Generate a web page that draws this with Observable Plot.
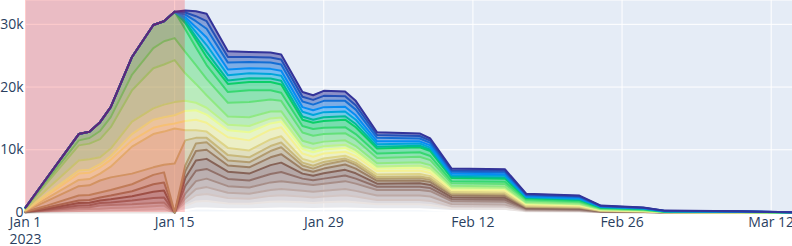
<!DOCTYPE html>
<html>
<head>
<meta charset="utf-8">
<script src="https://cdn.jsdelivr.net/npm/d3@7"></script>
<script src="https://cdn.jsdelivr.net/npm/@observablehq/plot@0.6"></script>
<style>
  html, body { margin: 0; padding: 0; background: #ffffff; }
  #chart svg { display: block; }
</style>
</head>
<body>
<div id="chart"></div>
<script>
// ---------- data (values in thousands) ----------
const dates = ["2023-01-01","2023-01-03","2023-01-06","2023-01-07","2023-01-08","2023-01-09","2023-01-11","2023-01-13","2023-01-14","2023-01-15",
  "2023-01-16","2023-01-17","2023-01-18","2023-01-20","2023-01-22","2023-01-24","2023-01-25","2023-01-27","2023-01-28","2023-01-29","2023-01-31",
  "2023-02-01","2023-02-03","2023-02-07","2023-02-08","2023-02-10","2023-02-15","2023-02-17","2023-02-22","2023-02-24","2023-02-28",
  "2023-03-02","2023-03-09","2023-03-14"];

// bottom layer first
const layer00 = [0,0,0,0,0,0,0,0,0,0, .37,.65,.65,.5,.5,.6,.65,.6,.55,.6,.65,.6,.5,.5,.45,.25,.22,.07,.05,.01,.01,0,0,0];
const layer01 = [0,0,0,0,0,0,0,0,0,0, .68,1.1,1.2,.95,.9,1.1,1.1,1.05,.95,1.05,1.1,1.05,.8,.8,.75,.4,.38,.11,.09,.03,.01,0,0,0];
const layer02 = [.01,.1,.25,.27,.3,.35,.4,.5,.6,0, .6,1.0,1.1,.85,.8,.95,1.0,.9,.9,.9,1.0,.9,.7,.7,.65,.35,.34,.1,.08,.02,.02,0,0,0];
const layer03 = [.01,.1,.25,.27,.3,.35,.4,.5,.5,0, .6,1.0,1.1,.85,.8,.95,1.0,.9,.9,.9,1.0,.9,.7,.7,.7,.35,.34,.1,.08,.03,.02,.01,0,0];
const layer04 = [.01,.1,.3,.3,.5,.5,.5,.5,.5,0, .75,1.25,1.35,1.05,1.0,1.2,1.25,1.15,1.1,1.15,1.25,1.15,.9,.9,.85,.45,.42,.12,.1,.03,.02,.01,.01,0];
const layer05 = [.02,.15,.3,.32,.4,.4,.6,.8,.8,0, 1.25,1.65,1.55,1.15,1.1,1.35,1.45,.8,.75,.8,.9,.8,.5,.5,.5,.32,.32,.11,.11,.03,.01,.01,0,0];
const layer06 = [.02,.15,.4,.4,.4,.5,.7,1.0,1.1,0, 1.25,1.65,1.6,1.15,1.1,1.4,1.5,.8,.7,.85,.9,.85,.5,.55,.5,.33,.33,.11,.11,.04,.02,0,0,0];
const layer07 = [.03,.2,.4,.42,.5,.6,.8,1.2,1.3,0, 1.1,1.5,1.45,1.0,1.0,1.25,1.35,.7,.65,.75,.85,.75,.45,.45,.45,.3,.3,.1,.1,.03,.02,0,0,0];
const layer08 = [.05,.3,.8,.8,.8,.9,1.1,1.5,1.6,0, .9,1.2,1.2,.8,.8,1.0,1.1,.6,.5,.6,.65,.6,.35,.4,.35,.25,.25,.08,.08,.03,.02,0,.01,0];
const layer09 = [.1,.7,1.5,1.55,1.9,2.0,1.7,1.2,1.2,7.8, 4.0,.9,.7,.85,.8,.8,.75,.45,.45,.45,.3,.3,.25,.25,.25,.14,.14,.1,.07,.03,.02,0,0,0];
const layer10 = [.06,.45,1.0,1.0,1.1,1.7,4.3,5.3,5.3,5.6, 1.6,1.2,1.0,1.15,1.1,1.05,1.0,.6,.6,.55,.45,.45,.4,.4,.35,.18,.18,.12,.09,.05,.03,.01,0,0];
const layer11 = [.06,.45,1.0,1.0,1.0,1.1,1.0,1.0,1.0,.8, 1.5,1.7,1.4,1.7,1.6,1.55,1.45,.85,.85,.8,.65,.65,.55,.55,.5,.28,.28,.18,.14,.07,.05,.01,.01,0];
const layer12 = [.04,.25,.5,.5,.5,.6,1.0,1.3,1.3,1.3, 1.6,1.5,1.3,1.1,1.3,1.0,.9,.7,.7,.65,.6,.55,.4,.45,.45,.25,.25,.12,.12,.04,.03,.01,.01,0];
const layer13 = [.12,.75,1.6,1.65,1.1,1.2,2.0,1.8,2.0,2.1, 1.6,1.2,1.1,.9,1.0,.8,.65,.55,.55,.5,.5,.4,.35,.35,.3,.15,.15,.1,.08,.04,.03,.01,.01,0];
const layer14 = [.15,1.0,2.4,2.5,2.9,3.4,5.0,6.4,6.4,6.7, 4.4,3.0,2.0,1.3,1.4,1.1,1.0,.8,.8,.75,.7,.65,.5,.5,.5,.25,.25,.14,.12,.06,.05,.02,.01,0];
const layer15 = [.06,.4,.8,.9,1.3,1.6,2.5,3.2,3.7,3.5, 3.4,3.0,2.6,2.2,2.4,1.9,1.65,1.3,1.3,1.2,1.15,1.05,.85,.9,.8,.4,.4,.24,.21,.1,.07,.02,.01,.01];
const layer16 = [.06,.4,1.0,1.0,1.4,1.6,2.8,3.7,3.2,4.2, 3.6,2.8,2.2,1.7,1.9,1.5,1.3,1.05,1.05,1.0,.95,.85,.7,.7,.65,.35,.35,.2,.17,.08,.06,.02,.02,.01];
const layer17 = [0,0,0,0,0,0,0,0,0,0, 1.0,1.2,1.3,1.3,1.3,1.3,1.3,1.0,1.0,1.1,1.2,1.1,.8,.8,.8,.5,.5,.2,.2,.08,.06,.02,.01,0];
const layer18 = [0,0,0,0,0,0,0,0,0,0, .24,.5,.8,.55,.6,.55,.6,.5,.5,.6,.55,.5,.3,.25,.25,.2,.2,.08,.08,.04,.04,.01,.01,0];
const layer19 = [0,0,0,0,0,0,0,0,0,0, .34,.75,1.1,.85,.8,.75,.8,.75,.75,.8,.75,.7,.4,.35,.3,.25,.25,.11,.11,.05,.04,.02,.01,0];
const layer20 = [0,0,0,0,0,0,0,0,0,0, .34,.8,1.2,.9,.8,.8,.8,.75,.75,.8,.75,.7,.45,.35,.35,.25,.25,.12,.12,.05,.04,.03,.02,0];
const layer21 = [0,0,0,0,0,0,0,0,0,0, .42,.95,1.4,1.1,1.0,1.0,1.0,.9,.9,1.0,.95,.9,.55,.45,.4,.3,.3,.15,.15,.06,.05,.03,.02,.01];
const layer22 = [0,0,0,0,0,0,0,0,0,0, .34,.8,1.2,.9,.8,.8,.8,.75,.75,.8,.75,.7,.45,.4,.35,.25,.25,.12,.12,.05,.04,.03,.02,.01];
const layer23 = [0,0,0,0,0,0,0,0,0,0, .34,.8,1.2,.9,.8,.8,.8,.75,.75,.8,.75,.7,.45,.4,.35,.25,.25,.12,.12,.05,.04,.03,.02,.01];

const layers = [layer00,layer01,layer02,layer03,layer04,layer05,layer06,layer07,layer08,layer09,layer10,layer11,
                layer12,layer13,layer14,layer15,layer16,layer17,layer18,layer19,layer20,layer21,layer22,layer23];

const highlightSpan = ["2023-01-01", "2023-01-16"];
const xTicks = ["2023-01-01","2023-01-15","2023-01-29","2023-02-12","2023-02-26","2023-03-12"];
const yTicks = [0, 10, 20, 30];

// ---------- build ----------
const terrain = d3.scaleLinear()
  .domain([0, 0.15, 0.25, 0.5, 0.75, 1])
  .range(["#333399", "#0099ff", "#00cc66", "#ffff99", "#805c54", "#ffffff"])
  .interpolate(d3.interpolateRgb);

const n = layers.length;
const rows = [];
layers.forEach((vals, k) => {
  const c = d3.color(terrain(1 - k / (n - 1))).formatHex();
  vals.forEach((v, i) => rows.push({date: new Date(dates[i]), value: v, layer: k, color: c}));
});

const xTickDates = xTicks.map(d => new Date(d));
const fmt = d3.utcFormat("%b %-d");
const ink = "#2a3f5f";

const chart = Plot.plot({
  width: 792,
  height: 246,
  marginTop: 0,
  marginRight: 0,
  marginBottom: 34,
  marginLeft: 25,
  style: {fontFamily: "'Open Sans', sans-serif", fontSize: "14px", color: ink, background: "#ffffff"},
  x: {type: "utc", domain: [new Date(dates[0]), new Date(dates[dates.length - 1])], axis: null},
  y: {domain: [0, 33.8], axis: null},
  color: {type: "identity"},
  marks: [
    Plot.frame({fill: "#E5ECF6", stroke: null}),
    Plot.ruleX(xTickDates, {stroke: "#ffffff", strokeWidth: 1}),
    Plot.ruleY(yTicks.filter(d => d > 0), {stroke: "#ffffff", strokeWidth: 1}),
    Plot.ruleY([0], {stroke: "#ffffff", strokeWidth: 2}),
    Plot.areaY(rows, Plot.stackY({x: "date", y: "value", z: "layer", fill: "color", fillOpacity: 0.5})),
    Plot.lineY(rows, Plot.stackY2({x: "date", y: "value", z: "layer", stroke: "color", strokeWidth: 2})),
    Plot.rect([{start: new Date(highlightSpan[0]), end: new Date(highlightSpan[1])}],
      {x1: "start", x2: "end", fill: "red", fillOpacity: 0.2}),
    Plot.text(xTickDates, {
      x: d => d,
      text: (d, i) => fmt(d) + (i === 0 ? "\n" + d.getUTCFullYear() : ""),
      frameAnchor: "bottom", lineAnchor: "top", dy: 3, lineHeight: 1.2,
      fill: ink, fontSize: 14
    }),
    Plot.text(yTicks, {
      y: d => d,
      text: d => d === 0 ? "0" : d + "k",
      frameAnchor: "left", textAnchor: "end", dx: -2,
      fill: ink, fontSize: 14
    })
  ]
});

document.getElementById("chart").appendChild(chart);
</script>
</body>
</html>
